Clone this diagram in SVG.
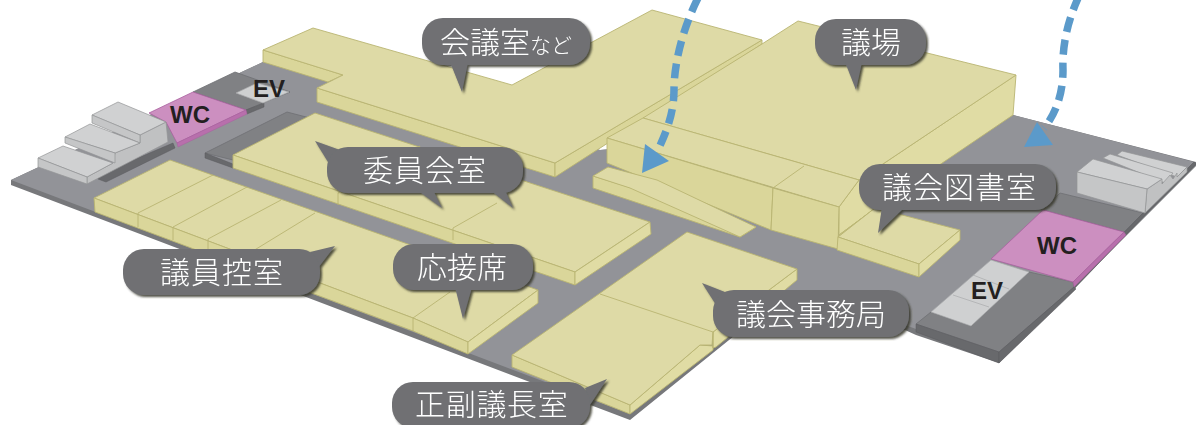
<svg xmlns="http://www.w3.org/2000/svg" width="1196" height="425" viewBox="0 0 1196 425">
<style>
.base{fill:#77787b}
.floor{fill:#929398}
.pad{fill:#808184;stroke:#6f7073;stroke-width:.8;stroke-linejoin:round}
.padside{fill:#68696c;stroke:#5a5b5e;stroke-width:.5}
.t{fill:#dedaa6;stroke:#b9b472;stroke-width:.9;stroke-linejoin:round}
.f{fill:#dad69a;stroke:#b9b472;stroke-width:.9;stroke-linejoin:round}
.s{fill:#e0dca4;stroke:#b9b472;stroke-width:.9;stroke-linejoin:round}
.l{fill:none;stroke:#b9b472;stroke-width:.9}
.gt{fill:#d0d1d2;stroke:#949597;stroke-width:.7;stroke-linejoin:round}
.gf{fill:#c5c6c7;stroke:#949597;stroke-width:.7;stroke-linejoin:round}
.gs{fill:#c0c1c2;stroke:#949597;stroke-width:.7;stroke-linejoin:round}
.ev{fill:#cfd0d1;stroke:#a9aaac;stroke-width:.7}
.wc{fill:#cc8fc0;stroke:#a9619f;stroke-width:.8;stroke-linejoin:round}
.wcs{fill:#b86fac;stroke:#a9619f;stroke-width:.5}
.bub{fill:#6f7073}
.bubble{filter:url(#sh)}
.tx{font-family:"Noto Sans CJK JP","Noto Sans",sans-serif;font-size:30px;fill:#fff;font-weight:300}
.txs{font-size:21px}
.lb{font-family:"Liberation Sans",Arial,sans-serif;font-size:24px;font-weight:700;fill:#231f20}
.dash{fill:none;stroke:#5b9aca;stroke-width:7.5;stroke-dasharray:15 8}
.head{fill:#5b9aca}
</style>
<defs>
<filter id="sh" x="-10%" y="-20%" width="120%" height="140%">
<feDropShadow dx="2" dy="2" stdDeviation="1.3" flood-color="#35342a" flood-opacity=".85"/>
</filter>
</defs>
<rect width="1196" height="425" fill="#fff"/>

<g id="floor">
<polygon class="base" points="11,180 11,185 630,420 734,336 905,330 916,335 999,363 1196,166 1196,162 1013,115 600,150 263,62"/>
<polygon class="floor" points="11,180 263,62 600,150 1013,115 1194,162 1124,232 999,357 916,329 905,325 728,336 630,414"/>
</g>

<g id="left-core">
<polygon class="pad" points="193,92 235,72 263,82 290,92 263,103 246,110"/>
<polygon class="padside" points="246,110 264,103 264,107 247,114"/>
<polygon class="ev" points="236,93 257,83 289,92 263,103"/>
<polygon class="wc" points="149,113 193,92 246,110 177,143 166,122"/>
<polygon class="wcs" points="246,110 247,114 178,147 177,143"/>
<polygon class="padside" points="98,175 173,143 175,148 106,182 98,179"/>
<polygon class="gs" points="87,177 113,163 115,153 140,143 140,135 166,122 168,142 87,184"/>
<polygon class="gt" points="92,115 118,102 166,122 140,135"/>
<polygon class="gf" points="92,115 140,135 140,143 92,123"/>
<polygon class="gt" points="65,137 90,124 140,143 115,153"/>
<polygon class="gf" points="65,137 115,153 115,163 65,143"/>
<polygon class="gt" points="38,158 63,146 113,163 87,177"/>
<polygon class="gf" points="38,158 87,177 87,184 38,167"/>
<polygon class="pad" points="205,153 287,112 310,118 233,160"/>
<polygon class="padside" points="205,153 233,164 233,168 205,158"/>
</g>

<g id="right-core">
<polygon class="pad" points="1060,193 1143,213 1124,232 1043,210"/>
<polygon class="padside" points="1073,285 1143,213 1194,162 1196,164 1143,217 1075,288"/>
<polygon class="pad" points="931,312 971,326 1029,272 1073,282 1074,287 999,352 916,324"/>
<polygon class="padside" points="916,324 999,352 999,363 916,332"/>
<polygon class="padside" points="999,352 1074,287 1076,289 999,363"/>
<polygon class="ev" points="931,312 991,260 1029,272 971,326"/>
<path class="ev" d="M953,295 L989,307 M973,275 L1009,289" fill="none"/>
<polygon class="wc" points="991,259 1043,210 1124,232 1073,282"/>
<polygon class="wcs" points="1124,232 1126,235 1074,287 1073,282"/>
<polygon class="gt" points="1117,155 1122,151 1187,167 1177,177"/>
<polygon class="gt" points="1103,158 1110,154 1173,173 1165,183"/>
<polygon class="gs" points="1147,189 1162,179 1162,184 1170,175 1173,179 1177,173 1177,177 1187,167 1187,172 1145,213"/>
<polygon class="gt" points="1077,172 1093,159 1162,179 1147,189"/>
<polygon class="gf" points="1077,172 1147,189 1145,213 1077,193"/>
</g>

<g id="room-kaigishitsu">
<polygon class="f" points="263,50 343,75 328,82 263,62"/>
<polygon class="f" points="317,88 555,163 555,177 317,102"/>
<polygon class="f" points="555,163 762,40 762,44 555,177"/>
<polygon class="t" points="263,50 313,28 512,85 652,10 762,40 555,163 317,88 343,75"/>
</g>

<g id="room-gijo">
<polygon class="s" points="859,180 1016,75 1013,115 870,212 839,235 839,207"/>
<polygon class="t" points="798,21 1016,75 859,180 643,118 762,44"/>
<polygon class="t" points="607,138 643,118 859,180 839,207"/>
<polygon class="f" points="607,138 773,188 771,230 607,163"/>
<polygon class="f" points="773,188 839,207 838,249 771,230"/>
<path class="l" d="M773,188 L804,166"/>
<polygon class="f" points="593,176 593,188 740,237 756,227"/>
<polygon class="t" points="593,176 608,167 657,180 756,227 740,237 630,188"/>
</g>

<g id="room-toshoshitsu">
<polygon class="s" points="838,237 875,208 880,205 839,235"/>
<polygon class="t" points="838,237 875,208 960,230 919,264"/>
<polygon class="f" points="838,237 919,264 919,277 837,250"/>
<polygon class="s" points="919,264 960,230 960,240 919,277"/>
</g>

<g id="room-iinkai">
<polygon class="t" points="233,155 315,113 650,222 575,272"/>
<polygon class="f" points="233,155 575,272 575,285 233,168"/>
<polygon class="s" points="575,272 650,222 651,234 575,285"/>
<path class="l" d="M338,193 L420,146 M453,228 L497,203 M338,193 V205 M453,228 V240"/>
</g>

<g id="room-giinhikae">
<polygon class="t" points="94,198 170,160 538,290 468,342 413,318"/>
<polygon class="f" points="94,198 413,318 468,342 468,354 413,331 95,212"/>
<polygon class="s" points="468,342 538,290 538,303 468,354"/>
<path class="l" d="M138,213 L213,175 M173,227 L247,187 M208,239 L281,200 M248,254 L315,213 M413,318 L450,292 M138,213 V227 M173,227 V240 M208,239 V252 M413,318 V331"/>
</g>

<g id="room-jimukyoku">
<polygon class="f" points="512,355 630,405 630,414 512,367"/>
<polygon class="s" points="630,405 700,345 713,346 713,350 630,414"/>
<polygon class="s" points="713,332 797,269 797,280 716,347 713,348"/>
<polygon class="t" points="512,355 687,232 797,269 713,332 712,345 700,345 630,405"/>
<path class="l" d="M600,294 L713,332 V348"/>
</g>

<g id="connectors">
<path class="dash" d="M698,-2 C682,30 674,65 674,90 C674,115 665,135 657,152"/>
<polygon class="head" points="642,173 645,144 669,161"/>
<path class="dash" d="M1079,-4 C1068,20 1062,45 1063,70 C1063,95 1055,115 1044,128"/>
<polygon class="head" points="1024,147 1037,122 1053,145"/>
</g>

<g id="label-wc-left"><text class="lb" x="170" y="123">WC</text></g>
<g id="label-ev-left"><text class="lb" x="253" y="97">EV</text></g>
<g id="label-wc-right"><text class="lb" x="1037" y="254">WC</text></g>
<g id="label-ev-right"><text class="lb" x="971" y="299">EV</text></g>

<g id="bubble-kaigishitsu" class="bubble">
<rect class="bub" x="422" y="18" width="168" height="47" rx="21"/>
<polygon class="bub" points="450,62 468,62 462,92"/>
<text class="tx" x="440" y="53">会議室<tspan class="txs">など</tspan></text>
</g>
<g id="bubble-gijo" class="bubble">
<rect class="bub" x="815" y="19" width="111" height="46" rx="21"/>
<polygon class="bub" points="845,62 862,62 856,90"/>
<text class="tx" x="841" y="53">議場</text>
</g>
<g id="bubble-toshoshitsu" class="bubble">
<rect class="bub" x="859" y="164" width="197" height="46" rx="21"/>
<polygon class="bub" points="882,207 905,207 878,233"/>
<text class="tx" x="882" y="198" letter-spacing="1">議会図書室</text>
</g>
<g id="bubble-iinkai" class="bubble">
<polygon class="bub" points="315,141 340,150 328,162"/>
<polygon class="bub" points="417,190 433,190 442,208"/>
<polygon class="bub" points="490,190 505,190 513,208"/>
<rect class="bub" x="327" y="147" width="196" height="46" rx="21"/>
<text class="tx" x="363" y="181" letter-spacing="1">委員会室</text>
</g>
<g id="bubble-giinhikae" class="bubble">
<polygon class="bub" points="310,252 335,246 318,268"/>
<rect class="bub" x="123" y="249" width="197" height="46" rx="21"/>
<text class="tx" x="160" y="283" letter-spacing="1">議員控室</text>
</g>
<g id="bubble-osetsu" class="bubble">
<polygon class="bub" points="455,287 472,287 463,319"/>
<rect class="bub" x="393" y="244" width="140" height="46" rx="21"/>
<text class="tx" x="417" y="278">応接席</text>
</g>
<g id="bubble-jimukyoku" class="bubble">
<polygon class="bub" points="702,283 730,294 718,308"/>
<rect class="bub" x="713" y="290" width="196" height="47" rx="21"/>
<text class="tx" x="736" y="325">議会事務局</text>
</g>
<g id="bubble-seifuku" class="bubble">
<polygon class="bub" points="607,379 585,388 590,405"/>
<rect class="bub" x="392" y="382" width="198" height="46" rx="21"/>
<text class="tx" x="415" y="415" letter-spacing="0.7">正副議長室</text>
</g>
</svg>
